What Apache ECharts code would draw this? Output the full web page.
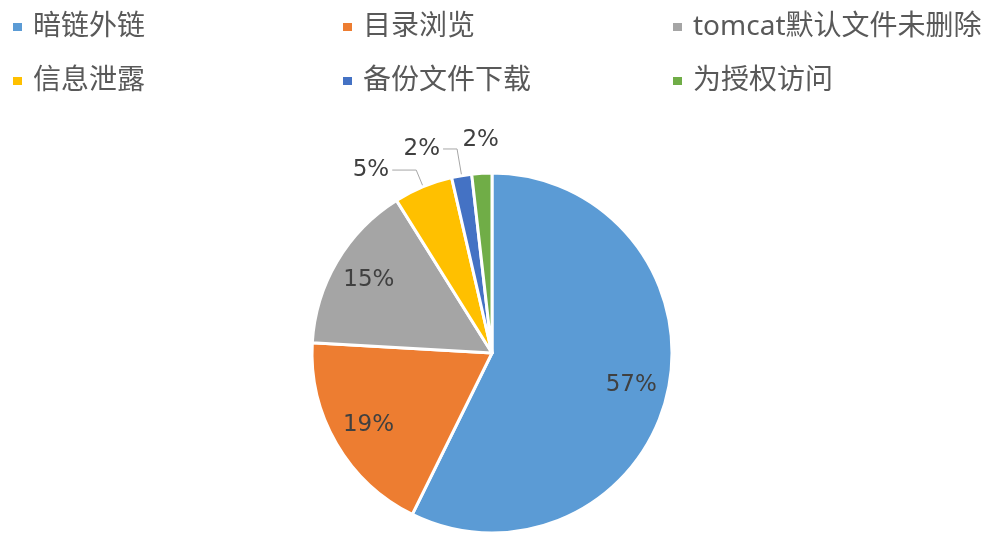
<!DOCTYPE html>
<html><head><meta charset="utf-8">
<script src="https://cdn.jsdelivr.net/npm/echarts@6/dist/echarts.min.js"></script>
<style>html,body{margin:0;padding:0;background:#fff}#c{width:994px;height:533px}</style>
</head><body><div id="c"></div>
<script>
const categories = ['暗链外链','目录浏览','tomcat默认文件未删除','信息泄露','备份文件下载','为授权访问'];
const values = [57.3, 18.6, 15.2, 5.3, 1.8, 1.8];
const colors = ['#5B9BD5','#ED7D31','#A5A5A5','#FFC000','#4472C4','#70AD47'];

const FONT = '"Noto Sans", "Noto Sans CJK SC", sans-serif';
const LFONT = '"DejaVu Sans", sans-serif';
const fmt = p => Math.round(p.percent) + '%';
const lineLen = [0, 0, 0, 18, 27, 33];
const lineLen2 = [0, 0, 0, 24, 14, -22];

const mainData = categories.map((n, i) => {
  const small = values[i] < 10;
  const last = i === categories.length - 1;
  return {
    name: n, value: values[i],
    itemStyle: { color: colors[i] },
    label: { show: small },
    labelLine: { show: small && !last, length: lineLen[i], length2: lineLen2[i] }
  };
});
const innerData = categories.map((n, i) => ({
  name: n, value: values[i],
  label: { show: values[i] >= 10 }
}));

const legendCols = [0, 1, 2].map(c => ({
  orient: 'vertical', left: [6, 336, 666][c], top: 6,
  icon: 'rect', itemWidth: 11, itemHeight: 10, itemGap: 22,
  data: [categories[c], categories[c + 3]],
  textStyle: { fontSize: 28, color: '#595959', fontFamily: FONT, lineHeight: 32, padding: [0, 0, 0, 5] },
  selectedMode: false
}));

const chart = echarts.init(document.getElementById('c'));
chart.setOption({
  animation: false,
  legend: legendCols,
  series: [{
    type: 'pie', center: [492, 353], radius: [0, 180], startAngle: 90, clockwise: true,
    avoidLabelOverlap: false,
    itemStyle: { borderColor: '#fff', borderWidth: 3 },
    label: { position: 'outside', formatter: fmt, fontSize: 23, color: '#404040', fontFamily: LFONT, distanceToLabelLine: 3 },
    labelLine: { lineStyle: { color: '#A6A6A6', width: 1 } },
    emphasis: { disabled: true },
    data: mainData
  }, {
    type: 'pie', center: [492, 353], radius: [100, 180], startAngle: 90, clockwise: true,
    silent: true,
    itemStyle: { color: 'transparent' },
    label: { position: 'inside', formatter: fmt, fontSize: 23, color: '#404040', fontFamily: LFONT },
    labelLine: { show: false },
    emphasis: { disabled: true },
    data: innerData
  }]
});
</script></body></html>
